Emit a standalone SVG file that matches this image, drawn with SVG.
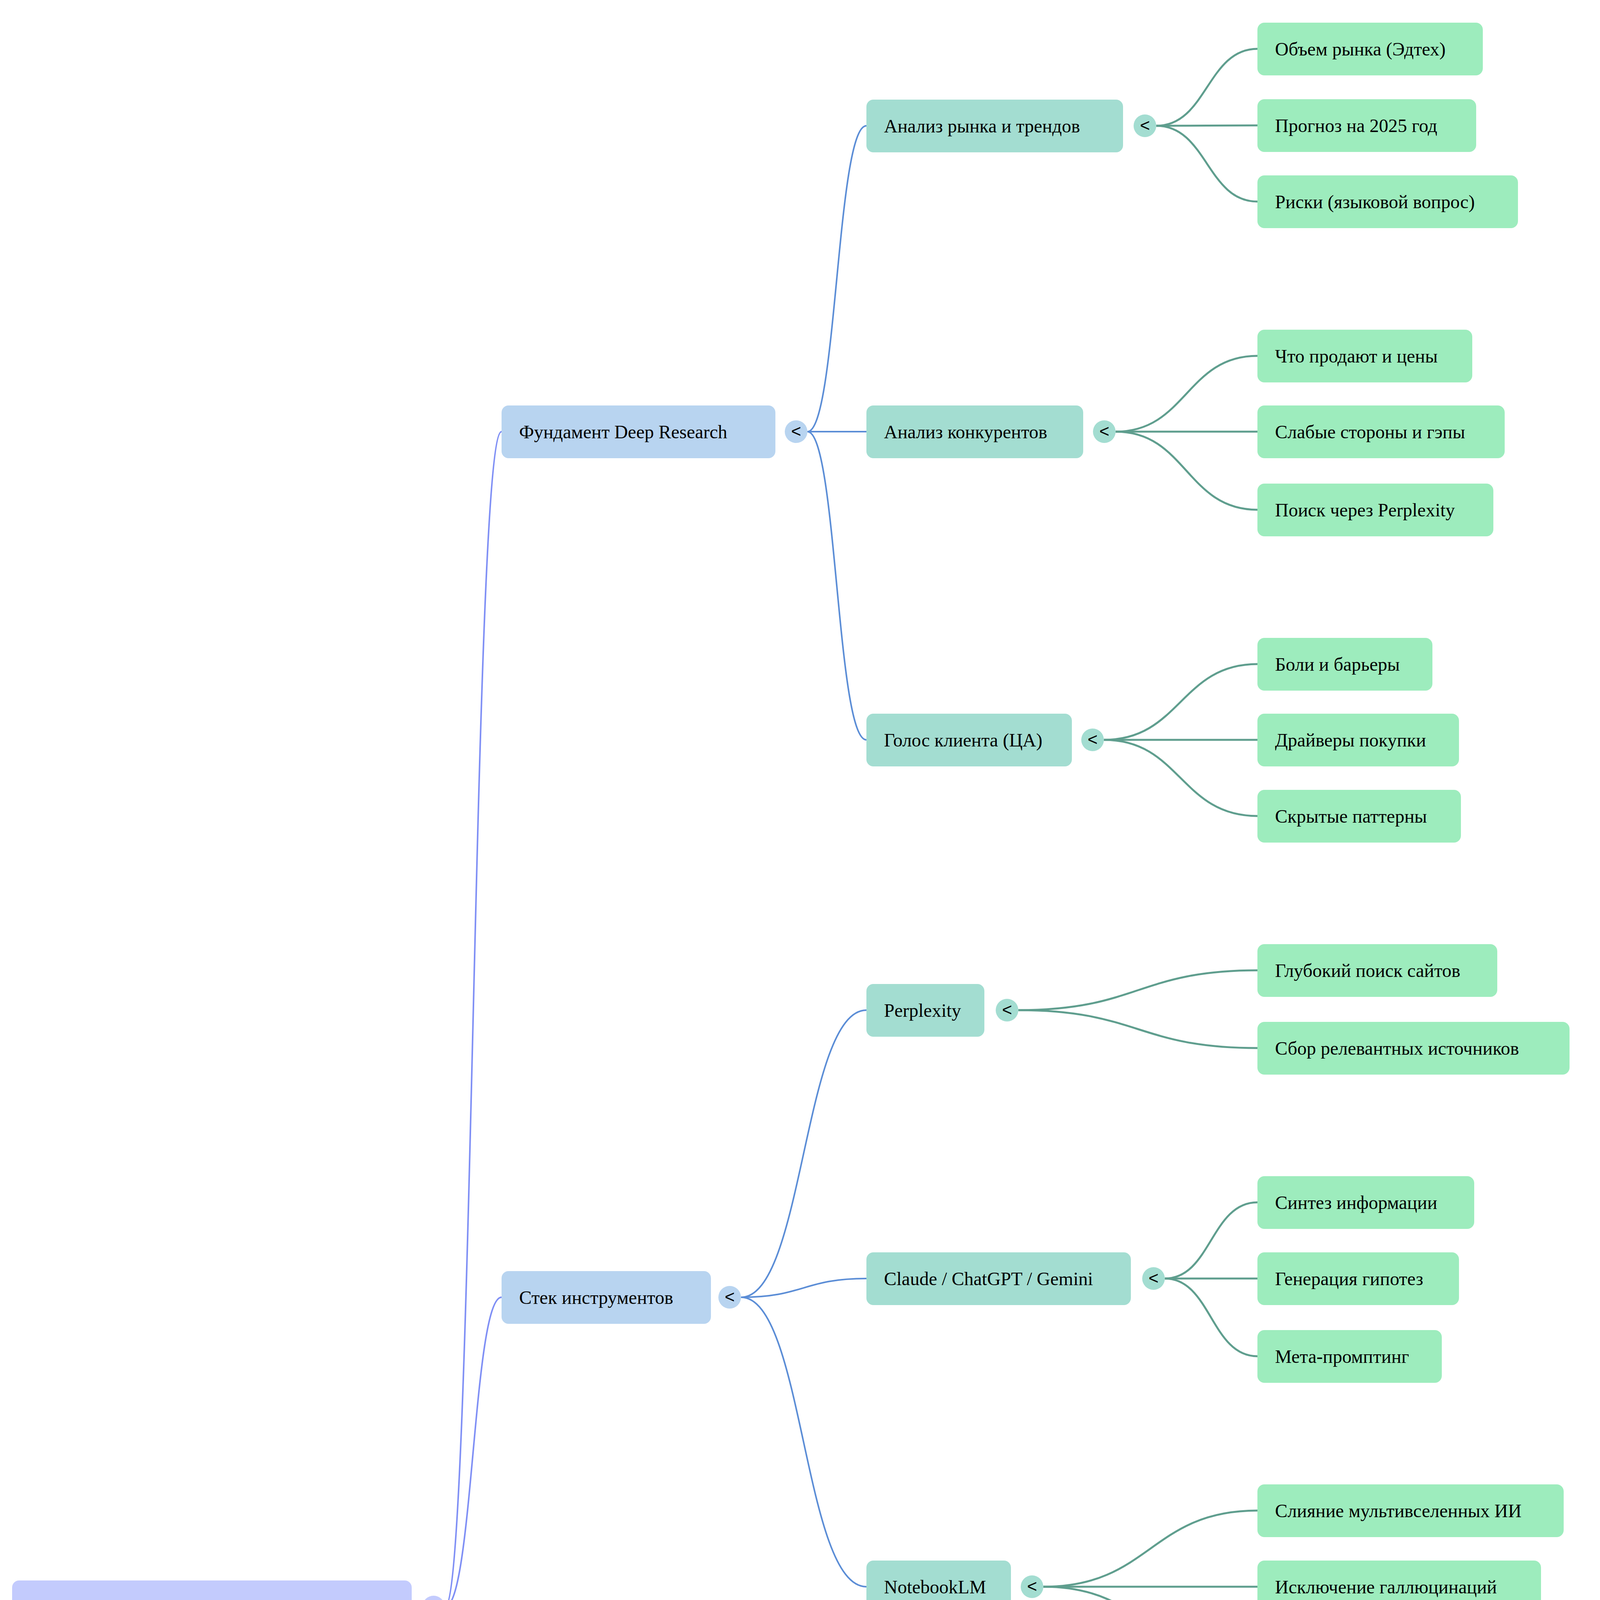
<svg xmlns="http://www.w3.org/2000/svg" width="4135" height="7637" viewBox="0 0 4135 7637">
<style>
text{font-family:"Liberation Serif","DejaVu Serif",serif;font-size:48px;fill:#000;dominant-baseline:central}
.r rect{fill:#c3cbfd}.l1 rect{fill:#b8d4f0}.l2 rect{fill:#a3ddd1}.l3 rect{fill:#9decbd}
.tg text{font-family:"Liberation Sans","DejaVu Sans",sans-serif;font-size:44px;text-anchor:middle}
.e0{fill:none;stroke:#7f8ff5;stroke-width:4}.e1{fill:none;stroke:#5b8dd6;stroke-width:4}.e2{fill:none;stroke:#5f9e8e;stroke-width:5}
</style>
<g id="connectors">
<path class="e0" d="M1139 4114 C1211 4114 1211 1105 1284 1105"/>
<path class="e0" d="M1139 4114 C1211 4114 1211 3321 1284 3321"/>
<path class="e0" d="M1139 4114 C1211 4114 1211 5586 1284 5586"/>
<path class="e0" d="M1139 4114 C1211 4114 1211 7115 1284 7115"/>
<path class="e1" d="M2067 1105 C2142 1105 2142 322 2218 322"/>
<path class="e1" d="M2067 1105 C2142 1105 2142 1105 2218 1105"/>
<path class="e1" d="M2067 1105 C2142 1105 2142 1894 2218 1894"/>
<path class="e1" d="M1897 3321 C2057 3321 2057 2586 2218 2586"/>
<path class="e1" d="M1897 3321 C2057 3321 2057 3273 2218 3273"/>
<path class="e1" d="M1897 3321 C2057 3321 2057 4062 2218 4062"/>
<path class="e1" d="M1931 5586 C2074 5586 2074 4851 2218 4851"/>
<path class="e1" d="M1931 5586 C2074 5586 2074 5635 2218 5635"/>
<path class="e1" d="M1931 5586 C2074 5586 2074 6326 2218 6326"/>
<path class="e1" d="M1907 7115 C2062 7115 2062 6721 2218 6721"/>
<path class="e1" d="M1907 7115 C2062 7115 2062 6915 2218 6915"/>
<path class="e1" d="M1907 7115 C2062 7115 2062 7115 2218 7115"/>
<path class="e1" d="M1907 7115 C2062 7115 2062 7310 2218 7310"/>
<path class="e1" d="M1907 7115 C2062 7115 2062 7510 2218 7510"/>
<path class="e2" d="M2960 322 C3090 322 3090 125 3219 125"/>
<path class="e2" d="M2960 322 C3090 322 3090 321 3219 321"/>
<path class="e2" d="M2960 322 C3090 322 3090 516 3219 516"/>
<path class="e2" d="M2856 1105 C3037 1105 3037 911 3219 911"/>
<path class="e2" d="M2856 1105 C3037 1105 3037 1105 3219 1105"/>
<path class="e2" d="M2856 1105 C3037 1105 3037 1305 3219 1305"/>
<path class="e2" d="M2826 1894 C3022 1894 3022 1700 3219 1700"/>
<path class="e2" d="M2826 1894 C3022 1894 3022 1894 3219 1894"/>
<path class="e2" d="M2826 1894 C3022 1894 3022 2089 3219 2089"/>
<path class="e2" d="M2607 2586 C2913 2586 2913 2484 3219 2484"/>
<path class="e2" d="M2607 2586 C2913 2586 2913 2683 3219 2683"/>
<path class="e2" d="M2982 3273 C3100 3273 3100 3078 3219 3078"/>
<path class="e2" d="M2982 3273 C3100 3273 3100 3273 3219 3273"/>
<path class="e2" d="M2982 3273 C3100 3273 3100 3472 3219 3472"/>
<path class="e2" d="M2671 4062 C2945 4062 2945 3867 3219 3867"/>
<path class="e2" d="M2671 4062 C2945 4062 2945 4062 3219 4062"/>
<path class="e2" d="M2671 4062 C2945 4062 2945 4261 3219 4261"/>
<path class="e2" d="M2909 4851 C3064 4851 3064 4651 3219 4651"/>
<path class="e2" d="M2909 4851 C3064 4851 3064 4851 3219 4851"/>
<path class="e2" d="M2909 4851 C3064 4851 3064 5045 3219 5045"/>
<path class="e2" d="M2763 5635 C2991 5635 2991 5440 3219 5440"/>
<path class="e2" d="M2763 5635 C2991 5635 2991 5635 3219 5635"/>
<path class="e2" d="M2763 5635 C2991 5635 2991 5834 3219 5834"/>
<path class="e2" d="M3045 6326 C3132 6326 3132 6224 3219 6224"/>
<path class="e2" d="M3045 6326 C3132 6326 3132 6424 3219 6424"/>
</g>
<g id="n0" class="r"><rect x="31" y="4046" width="1023" height="135" rx="18"/><text x="76" y="4114">Deep Research и стратегический анализ</text><g class="tg"><circle cx="1110" cy="4114" r="29" fill="#c3cbfd"/><text x="1110" y="4112">&lt;</text></g></g>
<g id="n1" class="l1"><rect x="1284" y="1038" width="701" height="135" rx="18"/><text x="1329" y="1105">Фундамент Deep Research</text><g class="tg"><circle cx="2038" cy="1105" r="29" fill="#b8d4f0"/><text x="2038" y="1103">&lt;</text></g></g>
<g id="n2" class="l1"><rect x="1284" y="3254" width="536" height="135" rx="18"/><text x="1329" y="3321">Стек инструментов</text><g class="tg"><circle cx="1868" cy="3321" r="29" fill="#b8d4f0"/><text x="1868" y="3319">&lt;</text></g></g>
<g id="n3" class="l1"><rect x="1284" y="5519" width="565" height="135" rx="18"/><text x="1329" y="5586">Стратегия и продукт</text><g class="tg"><circle cx="1902" cy="5586" r="29" fill="#b8d4f0"/><text x="1902" y="5584">&lt;</text></g></g>
<g id="n4" class="l1"><rect x="1284" y="7048" width="536" height="135" rx="18"/><text x="1329" y="7115">Алгоритм действий</text><g class="tg"><circle cx="1878" cy="7115" r="29" fill="#b8d4f0"/><text x="1878" y="7113">&lt;</text></g></g>
<g id="n5" class="l2"><rect x="2218" y="255" width="657" height="135" rx="18"/><text x="2263" y="322">Анализ рынка и трендов</text><g class="tg"><circle cx="2931" cy="322" r="29" fill="#a3ddd1"/><text x="2931" y="320">&lt;</text></g></g>
<g id="n6" class="l2"><rect x="2218" y="1038" width="555" height="135" rx="18"/><text x="2263" y="1105">Анализ конкурентов</text><g class="tg"><circle cx="2827" cy="1105" r="29" fill="#a3ddd1"/><text x="2827" y="1103">&lt;</text></g></g>
<g id="n7" class="l2"><rect x="2218" y="1827" width="526" height="135" rx="18"/><text x="2263" y="1894">Голос клиента (ЦА)</text><g class="tg"><circle cx="2797" cy="1894" r="29" fill="#a3ddd1"/><text x="2797" y="1892">&lt;</text></g></g>
<g id="n8" class="l2"><rect x="2218" y="2519" width="302" height="135" rx="18"/><text x="2263" y="2586">Perplexity</text><g class="tg"><circle cx="2578" cy="2586" r="29" fill="#a3ddd1"/><text x="2578" y="2584">&lt;</text></g></g>
<g id="n9" class="l2"><rect x="2218" y="3206" width="677" height="135" rx="18"/><text x="2263" y="3273">Claude / ChatGPT / Gemini</text><g class="tg"><circle cx="2953" cy="3273" r="29" fill="#a3ddd1"/><text x="2953" y="3271">&lt;</text></g></g>
<g id="n10" class="l2"><rect x="2218" y="3995" width="370" height="135" rx="18"/><text x="2263" y="4062">NotebookLM</text><g class="tg"><circle cx="2642" cy="4062" r="29" fill="#a3ddd1"/><text x="2642" y="4060">&lt;</text></g></g>
<g id="n11" class="l2"><rect x="2218" y="4784" width="609" height="135" rx="18"/><text x="2263" y="4851">Уникальность (Оффер)</text><g class="tg"><circle cx="2880" cy="4851" r="29" fill="#a3ddd1"/><text x="2880" y="4849">&lt;</text></g></g>
<g id="n12" class="l2"><rect x="2218" y="5568" width="458" height="135" rx="18"/><text x="2263" y="5635">Выбор сегмента</text><g class="tg"><circle cx="2734" cy="5635" r="29" fill="#a3ddd1"/><text x="2734" y="5633">&lt;</text></g></g>
<g id="n13" class="l2"><rect x="2218" y="6259" width="740" height="135" rx="18"/><text x="2263" y="6326">Ценный конечный результат</text><g class="tg"><circle cx="3016" cy="6326" r="29" fill="#a3ddd1"/><text x="3016" y="6324">&lt;</text></g></g>
<g id="n14" class="l2"><rect x="2218" y="6654" width="628" height="135" rx="18"/><text x="2263" y="6721">1. Сбор инфы о проекте</text></g>
<g id="n15" class="l2"><rect x="2218" y="6848" width="648" height="135" rx="18"/><text x="2263" y="6915">2. Запуск Deep Research</text></g>
<g id="n16" class="l2"><rect x="2218" y="7048" width="847" height="135" rx="18"/><text x="2263" y="7115">3. Экспорт источников и синтеза</text></g>
<g id="n17" class="l2"><rect x="2218" y="7243" width="682" height="135" rx="18"/><text x="2263" y="7310">4. Загрузка в NotebookLM</text></g>
<g id="n18" class="l2"><rect x="2218" y="7443" width="575" height="135" rx="18"/><text x="2263" y="7510">5. Принятие решения</text></g>
<g id="n19" class="l3"><rect x="3219" y="58" width="577" height="135" rx="18"/><text x="3264" y="125">Объем рынка (Эдтех)</text></g>
<g id="n20" class="l3"><rect x="3219" y="254" width="560" height="135" rx="18"/><text x="3264" y="321">Прогноз на 2025 год</text></g>
<g id="n21" class="l3"><rect x="3219" y="449" width="667" height="135" rx="18"/><text x="3264" y="516">Риски (языковой вопрос)</text></g>
<g id="n22" class="l3"><rect x="3219" y="844" width="550" height="135" rx="18"/><text x="3264" y="911">Что продают и цены</text></g>
<g id="n23" class="l3"><rect x="3219" y="1038" width="633" height="135" rx="18"/><text x="3264" y="1105">Слабые стороны и гэпы</text></g>
<g id="n24" class="l3"><rect x="3219" y="1238" width="604" height="135" rx="18"/><text x="3264" y="1305">Поиск через Perplexity</text></g>
<g id="n25" class="l3"><rect x="3219" y="1633" width="448" height="135" rx="18"/><text x="3264" y="1700">Боли и барьеры</text></g>
<g id="n26" class="l3"><rect x="3219" y="1827" width="516" height="135" rx="18"/><text x="3264" y="1894">Драйверы покупки</text></g>
<g id="n27" class="l3"><rect x="3219" y="2022" width="521" height="135" rx="18"/><text x="3264" y="2089">Скрытые паттерны</text></g>
<g id="n28" class="l3"><rect x="3219" y="2417" width="614" height="135" rx="18"/><text x="3264" y="2484">Глубокий поиск сайтов</text></g>
<g id="n29" class="l3"><rect x="3219" y="2616" width="799" height="135" rx="18"/><text x="3264" y="2683">Сбор релевантных источников</text></g>
<g id="n30" class="l3"><rect x="3219" y="3011" width="555" height="135" rx="18"/><text x="3264" y="3078">Синтез информации</text></g>
<g id="n31" class="l3"><rect x="3219" y="3206" width="516" height="135" rx="18"/><text x="3264" y="3273">Генерация гипотез</text></g>
<g id="n32" class="l3"><rect x="3219" y="3405" width="472" height="135" rx="18"/><text x="3264" y="3472">Мета-промптинг</text></g>
<g id="n33" class="l3"><rect x="3219" y="3800" width="784" height="135" rx="18"/><text x="3264" y="3867">Слияние мультивселенных ИИ</text></g>
<g id="n34" class="l3"><rect x="3219" y="3995" width="726" height="135" rx="18"/><text x="3264" y="4062">Исключение галлюцинаций</text></g>
<g id="n35" class="l3"><rect x="3219" y="4194" width="614" height="135" rx="18"/><text x="3264" y="4261">Работа с базой знаний</text></g>
<g id="n36" class="l3"><rect x="3219" y="4584" width="424" height="135" rx="18"/><text x="3264" y="4651">Новый формат</text></g>
<g id="n37" class="l3"><rect x="3219" y="4784" width="482" height="135" rx="18"/><text x="3264" y="4851">Авторский метод</text></g>
<g id="n38" class="l3"><rect x="3219" y="4978" width="526" height="135" rx="18"/><text x="3264" y="5045">ИИ как инструмент</text></g>
<g id="n39" class="l3"><rect x="3219" y="5373" width="692" height="135" rx="18"/><text x="3264" y="5440">Тревожные максималисты</text></g>
<g id="n40" class="l3"><rect x="3219" y="5568" width="594" height="135" rx="18"/><text x="3264" y="5635">Конвертеры геймеров</text></g>
<g id="n41" class="l3"><rect x="3219" y="5767" width="536" height="135" rx="18"/><text x="3264" y="5834">Фокус на одну боль</text></g>
<g id="n42" class="l3"><rect x="3219" y="6157" width="765" height="135" rx="18"/><text x="3264" y="6224">Решение проблемы будущего</text></g>
<g id="n43" class="l3"><rect x="3219" y="6357" width="511" height="135" rx="18"/><text x="3264" y="6424">Вау-эффект (MVP)</text></g>
</svg>
